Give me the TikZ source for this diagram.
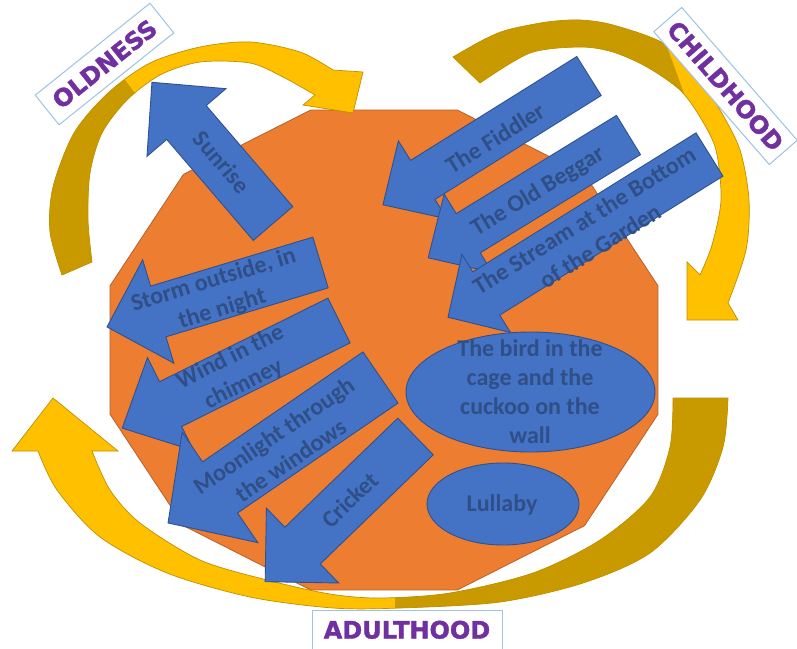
\documentclass[tikz,border=0pt]{standalone}
\usepackage{fontspec}
\setmainfont{Carlito}
\newfontfamily\lblfont{DejaVu Sans}[BoldFeatures={FakeBold=1.6}]
\usetikzlibrary{shapes.geometric}
\definecolor{orng}{HTML}{ED7D31}
\definecolor{orngline}{HTML}{B5612A}
\definecolor{bfill}{HTML}{4472C4}
\definecolor{bline}{HTML}{2F528F}
\definecolor{btxt}{HTML}{2F4F86}
\definecolor{gold}{HTML}{FFC000}
\definecolor{dgold}{HTML}{C99A00}
\definecolor{goldline}{HTML}{BF9000}
\definecolor{lblline}{HTML}{9DC3E6}
\definecolor{purp}{HTML}{7030A0}
\tikzset{
  polyshape/.style={fill=orng, draw=orngline, line width=0.8pt},
  barrowshape/.style={fill=bfill, draw=bline, line width=0.9pt, line join=miter},
  btext/.style={text=btxt, font=\fontsize{24}{30}\selectfont\bfseries, align=center, inner sep=0pt},
  bell/.style={ellipse, fill=bfill, draw=bline, line width=0.9pt, inner sep=0pt},
  yarrow/.style={draw=goldline, line width=0.7pt},
  lbl/.style={draw=lblline, line width=1pt, fill=white, text=purp, font=\lblfont\fontsize{24}{28}\selectfont\bfseries, inner sep=0pt},
}
% tail x, tail y, angle, length, shaft width, head width, head length
\newcommand{\blockarr}[7]{%
  \draw[barrowshape, shift={(#1,#2)}, rotate=#3]
    (0,{-#5/2}) -- ({#4-#7},{-#5/2}) -- ({#4-#7},{-#6/2}) -- (#4,0)
    -- ({#4-#7},{#6/2}) -- ({#4-#7},{#5/2}) -- (0,{#5/2}) -- cycle;}
\newcommand{\oldshape}{plot[smooth] coordinates {(62,275) (50,232) (53,187) (74,133) (108,93) (150,63) (200,47) (250,42) (300,52) (333,70)} -- (363,72) -- (353,113) -- (303,105) -- plot[smooth] coordinates {(315,95) (283,77) (250,63) (200,62) (160,75) (127,100) (102,133) (90,173) (88,220) (92,262)} -- cycle}
\newcommand{\childshape}{plot[smooth] coordinates {(453,57) (483,40) (507,30) (547,22) (580,20) (613,25) (663,43) (697,75) (720,110) (740,150) (749,200) (746,250) (728,303)} -- (738,320) -- (687,320) -- (687,262) -- plot[smooth] coordinates {(700,275) (712,245) (721,200) (716,150) (700,117) (680,90) (647,67) (613,52) (580,47) (530,53) (480,83)} -- cycle}
\newcommand{\adultshape}{plot[smooth] coordinates {(38,451) (57,490) (100,537) (167,573) (250,597) (333,608) (400,608) (500,602) (583,583) (650,553) (700,500) (723,447) (728,398)} -- plot[smooth] coordinates {(673,398) (670,447) (650,497) (600,540) (533,573) (450,593) (380,598) (330,594) (267,580) (200,560) (140,523) (110,490) (92,451)} -- (118,451) -- (53,398) -- (12,451) -- cycle}
\begin{document}
\begin{tikzpicture}[x=1pt, y=-1pt]
\useasboundingbox (0,0) rectangle (797,648);
\fill[white] (0,0) rectangle (797,648);
% orange dodecagon
\draw[polyshape] ({384+283.6*cos(15)},{350+248.4*sin(15)})
  \foreach \a in {45,75,...,345} { -- ({384+283.6*cos(\a)},{350+248.4*sin(\a)}) } -- cycle;
% yellow curved arrows
\fill[gold] \oldshape;
\begin{scope}\clip \oldshape; \fill[dgold] (0,40) -- (95,40) -- (155,120) -- (155,300) -- (0,300) -- cycle;\end{scope}
\draw[yarrow] \oldshape;
\fill[gold] \childshape;
\begin{scope}\clip \childshape; \fill[dgold] (440,0) -- (650,0) -- (690,110) -- (690,140) -- (440,140) -- cycle;\end{scope}
\draw[yarrow] \childshape;
\fill[gold] \adultshape;
\begin{scope}\clip \adultshape; \fill[dgold] (395,380) -- (797,380) -- (797,648) -- (395,648) -- cycle;\end{scope}
\draw[yarrow] \adultshape;
% blue block arrows
\blockarr{273}{223.5}{130.6}{186}{52}{104}{53}
\blockarr{320.5}{262.5}{196.8}{223}{53}{108}{53.5}
\blockarr{339}{320.5}{206.4}{242}{50}{104}{54}
\blockarr{380.5}{377.5}{214.4}{257.5}{62}{134}{63}
\blockarr{415.5}{436.5}{224}{209}{51}{104}{52}
\blockarr{589}{76}{212}{243}{46}{92}{47}
\blockarr{628.5}{135}{211.5}{235}{46}{92}{47}
\blockarr{709.5}{154.5}{211.9}{308}{51}{92}{45}
% ellipses
\node[bell, minimum width=249pt, minimum height=120pt] (birdell) at (530.5,392) {};
\node[bell, minimum width=152pt, minimum height=82pt] (lullell) at (503,504) {};
% texts
\node[btext, rotate=-49.4] (sunrise) at (222,162) {Sunrise};
\node[btext, rotate=16.8] (storm) at (218,295) {Storm outside, in\\the night};
\node[btext, rotate=26.4] (wind) at (237,371) {Wind in the\\chimney};
\node[btext, rotate=34.4] (moon) at (282,448) {Moonlight through\\the windows};
\node[btext, rotate=44] (cricket) at (350,500) {Cricket};
\node[btext, rotate=32] (fiddler) at (495,138) {The Fiddler};
\node[btext, rotate=31.5] (beggar) at (538,192) {The Old Beggar};
\node[btext, rotate=32] (stream) at (592,233) {The Stream at the Bottom\\of the Garden};
\node[btext, font=\fontsize{24}{29}\selectfont\bfseries] (bird) at (530,391.5) {The bird in the\\cage and the\\cuckoo on the\\wall};
\node[btext] (lullaby) at (502,505) {Lullaby};
% labels
\node[lbl, minimum width=147pt, minimum height=38pt, rotate=38.7] (oldness) at (104.5,64) {OLDNESS};
\node[lbl, minimum width=176pt, minimum height=37pt, rotate=-49] (childhood) at (725.5,86) {CHILDHOOD};
\node[lbl, anchor=north, minimum width=190pt, text height=28pt, text depth=22pt] (adulthood) at (407,610) {ADULTHOOD};
\end{tikzpicture}
\end{document}
